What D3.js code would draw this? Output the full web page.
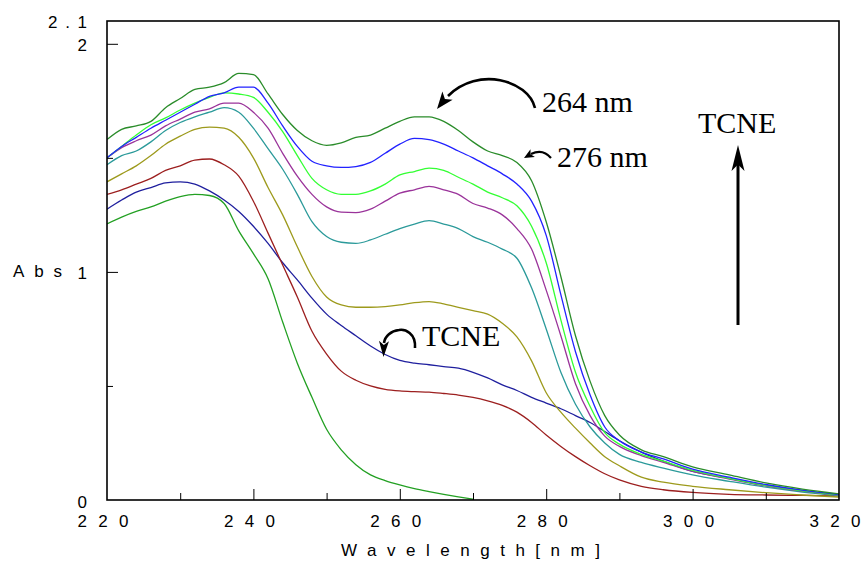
<!DOCTYPE html>
<html>
<head>
<meta charset="utf-8">
<script src="https://cdn.jsdelivr.net/npm/d3@7/dist/d3.min.js"></script>
<style>
  html, body { margin: 0; padding: 0; background: #fff; }
  svg { display: block; }
</style>
</head>
<body>
<svg id="chart" width="864" height="562"></svg>
<script>
// ---------------- data ----------------
const wavelengths = [220,222,224,226,228,230,232,234,236,238,240,242,244,246,248,250,252,254,256,258,260,262,264,266,268,270,272,274,276,278,280,282,284,286,288,290,293,296,300,305,310,315,320];

const absTop = [1.58,1.625,1.64,1.66,1.72,1.76,1.80,1.81,1.83,1.87,1.865,1.78,1.69,1.62,1.575,1.555,1.566,1.59,1.60,1.63,1.66,1.68,1.68,1.66,1.62,1.57,1.53,1.51,1.48,1.40,1.22,0.98,0.72,0.52,0.37,0.285,0.22,0.19,0.145,0.11,0.075,0.048,0.027];
const absBlue = [1.50,1.55,1.59,1.63,1.665,1.70,1.735,1.77,1.785,1.81,1.81,1.74,1.64,1.55,1.485,1.465,1.458,1.462,1.48,1.52,1.56,1.585,1.58,1.56,1.53,1.50,1.465,1.43,1.385,1.31,1.16,0.90,0.65,0.46,0.32,0.26,0.21,0.18,0.135,0.10,0.068,0.043,0.024];
const absLime = [1.50,1.55,1.60,1.645,1.675,1.71,1.74,1.765,1.785,1.78,1.765,1.70,1.615,1.51,1.41,1.36,1.34,1.34,1.355,1.385,1.425,1.44,1.455,1.445,1.415,1.385,1.35,1.325,1.29,1.20,1.04,0.79,0.56,0.41,0.295,0.245,0.20,0.17,0.13,0.095,0.064,0.040,0.022];
const absPurple = [1.50,1.545,1.575,1.60,1.64,1.67,1.70,1.715,1.74,1.74,1.70,1.63,1.52,1.42,1.34,1.285,1.262,1.26,1.275,1.31,1.345,1.36,1.375,1.36,1.34,1.30,1.28,1.25,1.19,1.10,0.92,0.72,0.51,0.37,0.28,0.235,0.195,0.165,0.125,0.092,0.062,0.039,0.021];
const absTeal = [1.47,1.51,1.53,1.57,1.62,1.655,1.68,1.70,1.72,1.70,1.63,1.54,1.45,1.34,1.22,1.155,1.13,1.125,1.14,1.165,1.19,1.21,1.225,1.21,1.19,1.155,1.13,1.10,1.06,0.93,0.75,0.56,0.42,0.32,0.25,0.20,0.165,0.14,0.11,0.082,0.056,0.035,0.019];
const absOlive = [1.395,1.43,1.465,1.51,1.56,1.595,1.625,1.635,1.63,1.59,1.50,1.37,1.25,1.11,0.98,0.89,0.855,0.845,0.845,0.848,0.855,0.865,0.87,0.86,0.845,0.83,0.815,0.775,0.715,0.61,0.47,0.385,0.315,0.25,0.19,0.15,0.10,0.078,0.06,0.045,0.032,0.022,0.013];
const absRed = [1.34,1.36,1.385,1.41,1.445,1.465,1.49,1.495,1.47,1.42,1.31,1.17,1.03,0.89,0.74,0.64,0.565,0.525,0.50,0.485,0.478,0.475,0.473,0.467,0.46,0.45,0.435,0.415,0.385,0.34,0.285,0.235,0.19,0.15,0.115,0.088,0.06,0.045,0.033,0.025,0.022,0.02,0.018];
const absNavy = [1.275,1.315,1.35,1.37,1.39,1.395,1.385,1.355,1.315,1.265,1.20,1.125,1.04,0.965,0.885,0.815,0.765,0.72,0.675,0.638,0.612,0.60,0.593,0.585,0.578,0.56,0.535,0.505,0.48,0.45,0.425,0.40,0.37,0.34,0.30,0.26,0.21,0.17,0.125,0.095,0.063,0.04,0.022];
const absBottom = [1.21,1.24,1.265,1.285,1.31,1.33,1.34,1.335,1.30,1.18,1.08,0.97,0.78,0.60,0.45,0.31,0.22,0.155,0.11,0.085,0.066,0.05,0.037,0.025,0.014,0.004,null,null,null,null,null,null,null,null,null,null,null,null,null,null,null,null,null];

const seriesList = [absBottom, absNavy, absRed, absOlive, absTeal, absPurple, absLime, absBlue, absTop];
const seriesColors = ["#23a023", "#1f1f9e", "#9c1f1f", "#9d9a1c", "#2b9a9a", "#9a339a", "#33ff33", "#2222ff", "#2a8c2a"];

const xTickValues = [220, 240, 260, 280, 300, 320];
const xMinorValues = [230, 250, 270, 290, 310];
const yTickValues = [0, 1, 2];
const yTickLabels = ["0", "1", "2"];
const yMinorValues = [0.5, 1.5];
const yTopLabel = "2.1";

// ---------------- layout ----------------
const svg = d3.select("#chart");
const L = 107, R = 839, T = 21, B = 500;
const x = d3.scaleLinear().domain([220, 320]).range([L, R]);
const y = d3.scaleLinear().domain([0, 2.1]).range([B, T]);

const font = "'Liberation Sans', Arial, Helvetica, sans-serif";
const serif = "'Liberation Serif', 'Times New Roman', Times, serif";
const fs = 17;

svg.append("defs").append("clipPath").attr("id", "plotclip")
  .append("rect").attr("x", L).attr("y", T).attr("width", R - L).attr("height", B - T);

// curves
const line = d3.line()
  .defined(d => d[1] !== null)
  .x(d => x(d[0]))
  .y(d => y(d[1]))
  .curve(d3.curveMonotoneX);

const gCurves = svg.append("g").attr("clip-path", "url(#plotclip)");
seriesList.forEach((vals, i) => {
  gCurves.append("path")
    .datum(wavelengths.map((w, k) => [w, vals[k]]))
    .attr("d", line)
    .attr("fill", "none")
    .attr("stroke", seriesColors[i])
    .attr("stroke-width", 1.3)
    .attr("stroke-linejoin", "round");
});

// axes (ticks inward)
const xAxisMajor = d3.axisTop(x).tickValues(xTickValues.filter(v => v > 220 && v < 320)).tickSize(11).tickFormat("");
const xAxisMinor = d3.axisTop(x).tickValues(xMinorValues).tickSize(7).tickFormat("");
const gx1 = svg.append("g").attr("transform", `translate(0,${B})`).call(xAxisMajor);
const gx2 = svg.append("g").attr("transform", `translate(0,${B})`).call(xAxisMinor);
const yAxisMajor = d3.axisRight(y).tickValues(yTickValues.filter(v => v > 0)).tickSize(11).tickFormat("");
const yAxisMinor = d3.axisRight(y).tickValues(yMinorValues).tickSize(6).tickFormat("");
const gy1 = svg.append("g").attr("transform", `translate(${L},0)`).call(yAxisMajor);
const gy2 = svg.append("g").attr("transform", `translate(${L},0)`).call(yAxisMinor);
[gx1, gx2, gy1, gy2].forEach(g => {
  g.select(".domain").remove();
  g.selectAll(".tick line").attr("stroke", "#000").attr("stroke-width", 1);
});

// frame
svg.append("rect").attr("x", L).attr("y", T).attr("width", R - L).attr("height", B - T)
  .attr("fill", "none").attr("stroke", "#000").attr("stroke-width", 1.6);

// x tick labels
svg.append("g").selectAll("text").data(xTickValues).join("text")
  .attr("x", d => x(d) - 4)
  .attr("y", 527)
  .attr("text-anchor", "middle")
  .attr("font-family", font).attr("font-size", fs)
  .attr("textLength", 51).attr("lengthAdjust", "spacing")
  .text(d => String(d));

// y tick labels
svg.append("g").selectAll("text").data(yTickValues).join("text")
  .attr("x", 87)
  .attr("y", d => y(d) + 7.5)
  .attr("text-anchor", "end")
  .attr("font-family", font).attr("font-size", fs)
  .text((d, i) => yTickLabels[i]);
svg.append("text").attr("x", 48).attr("y", y(2.1) + 7)
  .attr("font-family", font).attr("font-size", fs)
  .attr("textLength", 39).attr("lengthAdjust", "spacing")
  .text(yTopLabel);

// axis titles
svg.append("text").attr("x", 13).attr("y", 277)
  .attr("font-family", font).attr("font-size", fs)
  .attr("textLength", 49).attr("lengthAdjust", "spacing")
  .text("Abs");
svg.append("text").attr("x", 341).attr("y", 556)
  .attr("font-family", font).attr("font-size", fs)
  .attr("textLength", 259).attr("lengthAdjust", "spacing")
  .text("Wavelength[nm]");

// ---------------- annotations ----------------
function arrowHead(g, tip, from, len, wid) {
  const dx = tip[0] - from[0], dy = tip[1] - from[1];
  const d = Math.hypot(dx, dy), ux = dx / d, uy = dy / d;
  const bx = tip[0] - ux * len, by = tip[1] - uy * len;
  const px = -uy * wid / 2, py = ux * wid / 2;
  const inner = [tip[0] - ux * len * 0.75, tip[1] - uy * len * 0.75];
  g.append("path")
    .attr("d", `M${tip[0]},${tip[1]} L${bx + px},${by + py} L${inner[0]},${inner[1]} L${bx - px},${by - py} Z`)
    .attr("fill", "#000");
}
const ann = svg.append("g");
const afs = 30;

// 264 nm
ann.append("path").attr("d", "M535,108 C528,80 478,66 448,96")
  .attr("fill", "none").attr("stroke", "#000").attr("stroke-width", 2.6);
arrowHead(ann, [437, 109], [448, 95], 17, 13);
ann.append("text").attr("x", 542).attr("y", 112)
  .attr("font-family", serif).attr("font-size", afs).text("264 nm");

// 276 nm
ann.append("path").attr("d", "M551,158 C546,152 539,150 531,154")
  .attr("fill", "none").attr("stroke", "#000").attr("stroke-width", 2.2);
arrowHead(ann, [524, 158], [532, 153.5], 10, 9);
ann.append("text").attr("x", 557).attr("y", 167)
  .attr("font-family", serif).attr("font-size", afs).text("276 nm");

// TCNE (curl)
ann.append("path").attr("d", "M415,348 C416,333 405,329 399,330 C391,331 385,336 384,343")
  .attr("fill", "none").attr("stroke", "#000").attr("stroke-width", 2.6);
arrowHead(ann, [383.5, 357], [384, 340], 16, 10);
ann.append("text").attr("x", 422).attr("y", 346)
  .attr("font-family", serif).attr("font-size", afs).text("TCNE");

// TCNE vertical arrow
ann.append("line").attr("x1", 738).attr("y1", 325).attr("x2", 738).attr("y2", 162)
  .attr("stroke", "#000").attr("stroke-width", 3);
arrowHead(ann, [738, 145], [738, 170], 26, 13);
ann.append("text").attr("x", 698).attr("y", 133)
  .attr("font-family", serif).attr("font-size", afs).text("TCNE");
</script>
</body>
</html>
